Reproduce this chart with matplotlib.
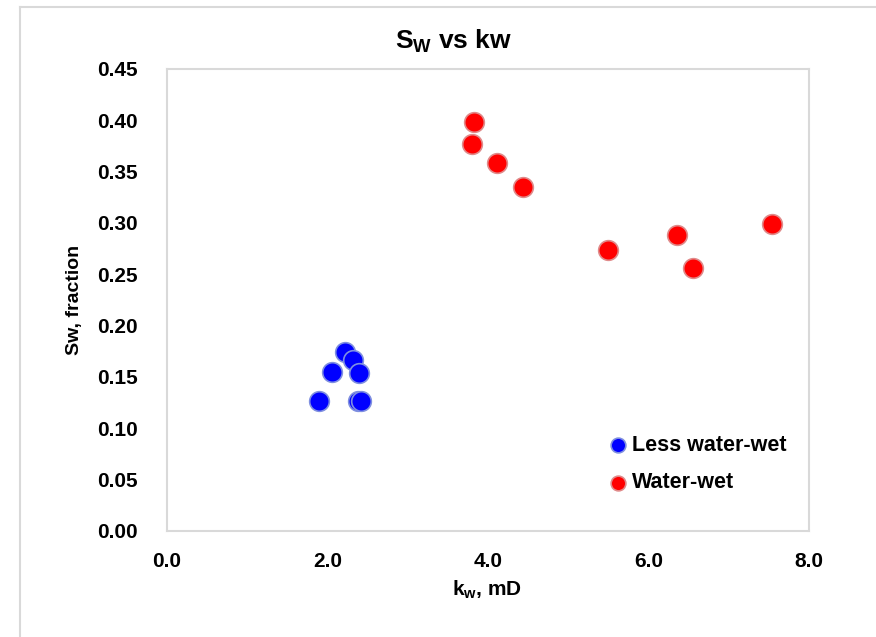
import matplotlib.pyplot as plt
from matplotlib.lines import Line2D

plt.rcParams['font.family'] = ['Liberation Sans', 'DejaVu Sans']
plt.rcParams['font.weight'] = 'bold'
plt.rcParams['mathtext.default'] = 'regular'

# Less water-wet samples
kw_less = [1.89, 2.05, 2.22, 2.32, 2.39, 2.38, 2.42]
sw_less = [0.127, 0.155, 0.174, 0.167, 0.154, 0.127, 0.127]

# Water-wet samples
kw_wet = [3.82, 3.80, 4.11, 4.43, 5.50, 6.36, 6.56, 7.54]
sw_wet = [0.398, 0.377, 0.358, 0.335, 0.274, 0.288, 0.256, 0.299]

xticks = [0.0, 2.0, 4.0, 6.0, 8.0]
yticks = [0.00, 0.05, 0.10, 0.15, 0.20, 0.25, 0.30, 0.35, 0.40, 0.45]

W, H = 876, 637
fig = plt.figure(figsize=(W / 100, H / 100), dpi=100)
ax = fig.add_axes([167 / W, 1 - 531 / H, 642 / W, 462 / H])

# outer frame of the pasted chart
fig.add_artist(Line2D([20 / W, 1.0], [1 - 7 / H, 1 - 7 / H], color='#d9d9d9', lw=1.5))
fig.add_artist(Line2D([20 / W, 20 / W], [0.0, 1 - 7 / H], color='#d9d9d9', lw=1.5))

ax.scatter(kw_less, sw_less, s=200, color='#0000ff', edgecolors='#7f8fe0',
           linewidths=1.2, zorder=3, label='Less water-wet')
ax.scatter(kw_wet, sw_wet, s=200, color='#ff0000', edgecolors='#e08a8a',
           linewidths=1.2, zorder=3, label='Water-wet')

ax.set_xlim(0, 8)
ax.set_ylim(0, 0.45)
ax.set_xticks(xticks)
ax.set_xticklabels(['%.1f' % v for v in xticks])
ax.set_yticks(yticks)
ax.set_yticklabels(['%.2f' % v for v in yticks])
ax.tick_params(length=0, labelsize=15)
ax.tick_params(axis='y', pad=21)
ax.tick_params(axis='x', pad=15)
for sp in ax.spines.values():
    sp.set_color('#d9d9d9')
    sp.set_linewidth(1.5)

fig.text(454 / W, 1 - 41 / H, r'S$_{W}$ vs kw', fontsize=19, fontweight='bold',
         ha='center', va='center')
fig.text(487 / W, 1 - 590 / H, r'k$_{w}$, mD', fontsize=15, fontweight='bold',
         ha='center', va='center')
fig.text(75 / W, 1 - 300 / H, 'Sw, fraction', fontsize=14, fontweight='bold',
         ha='center', va='center', rotation=90)

leg = ax.legend(loc='center left', bbox_to_anchor=(0.689, 0.145), frameon=False,
                fontsize=15.5, handlelength=0.8, handletextpad=0.25,
                labelspacing=0.78, markerscale=0.75, borderaxespad=0, borderpad=0)

fig.savefig('out.png', dpi=100)
